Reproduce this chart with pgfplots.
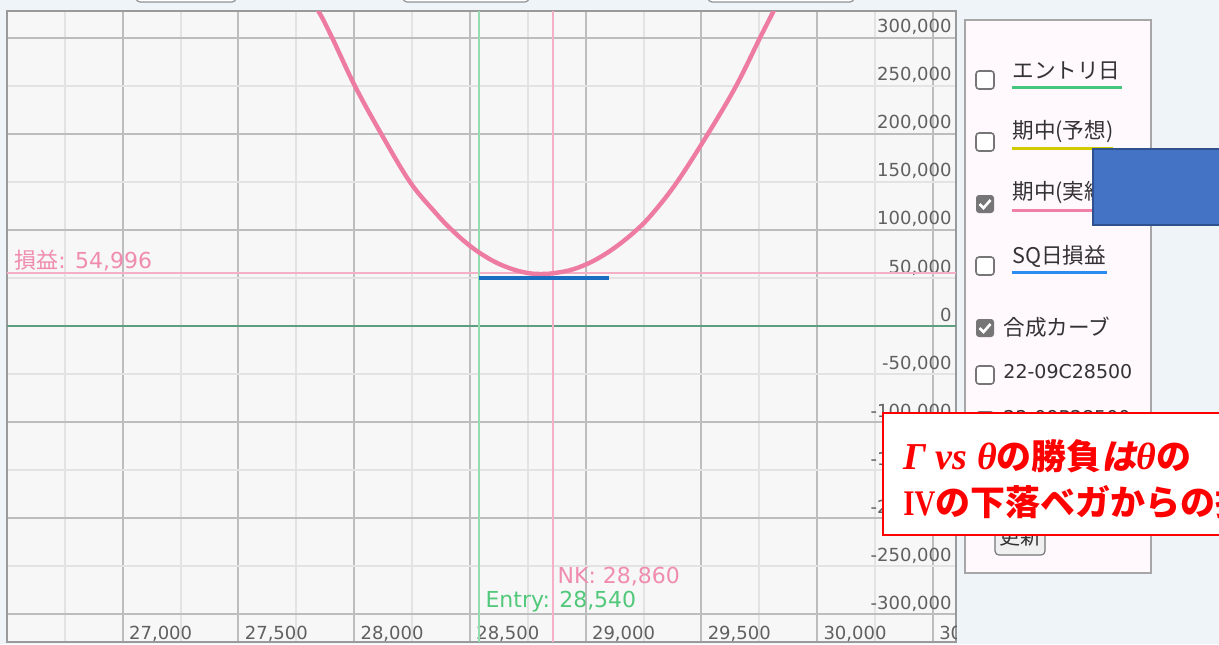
\documentclass[border=0pt]{standalone}
\usepackage{fontspec}
\setmainfont{DejaVu Sans}
\newfontfamily\jp{Noto Sans CJK JP}
\newfontfamily\jpsl{Noto Sans CJK JP}[BoldFeatures={FakeSlant=0.2}]
\newfontfamily\serifj{Liberation Serif}
\newfontfamily\serifn{Liberation Serif}[BoldFeatures={FakeStretch=0.8}]
\usepackage{pgfplots}
\pgfplotsset{compat=1.18}
\definecolor{pagebg}{HTML}{EFF4F9}
\definecolor{plotbg}{HTML}{F7F7F7}
\definecolor{majgrid}{HTML}{BDBDBD}
\definecolor{mingrid}{HTML}{E3E3E3}
\definecolor{axisgray}{HTML}{9A9A9A}
\definecolor{tickgray}{HTML}{606060}
\definecolor{curvepink}{HTML}{EE7BA2}
\definecolor{pinkline}{HTML}{F5B0C7}
\definecolor{pinktext}{HTML}{F08CAF}
\definecolor{entrygreen}{HTML}{95DDB0}
\definecolor{greentext}{HTML}{52C87A}
\definecolor{zerogreen}{HTML}{5E9F7F}
\definecolor{sqblue}{HTML}{1A6EC2}
\definecolor{panelbg}{HTML}{FFF8FD}
\definecolor{panelborder}{HTML}{A6A6A6}
\definecolor{boxgray}{HTML}{767676}
\definecolor{legtext}{HTML}{333333}
\definecolor{ulgreen}{HTML}{44C67C}
\definecolor{ulyellow}{HTML}{D2CA00}
\definecolor{ulpink}{HTML}{F07FA5}
\definecolor{ulblue}{HTML}{2A8CF0}
\definecolor{shapeblue}{HTML}{4472C4}
\definecolor{shapeedge}{HTML}{2F528F}

\begin{document}
\begin{tikzpicture}
\path[use as bounding box] (0,0) rectangle (609.5pt,-322pt);
\clip (0,0) rectangle (609.5pt,-322pt);
\fill[pagebg] (0,0) rectangle (609.5pt,-322pt);

% partial buttons above the chart
\begin{scope}[x=0.5pt,y=-0.5pt]
\foreach \a/\b in {136/236, 403/529, 708/854}
  \draw[draw=boxgray!80, fill=white, rounded corners=2pt, line width=0.6pt] (\a,-20) rectangle (\b,2);
\end{scope}

\begin{axis}[
    at={(3.5pt,-5.5pt)}, anchor=north west,
    width=474.5pt, height=315.5pt, scale only axis,
    xmin=26500, xmax=30600, ymin=-329000, ymax=328000,
    axis background/.style={fill=plotbg},
    axis line style={draw=axisgray, line width=1pt},
    xtick={27000,27500,...,30500},
    xticklabels={{27,000},{27,500},{28,000},{28,500},{29,000},{29,500},{30,000},{30,500}},
    minor xtick={26750,27250,...,30250},
    ytick={-300000,-200000,...,300000},
    yticklabels={{-300,000},{-200,000},{-100,000},{0},{100,000},{200,000},{300,000}},
    minor ytick={-250000,-150000,...,250000},
    extra y ticks={-250000,-150000,-50000,50000,150000,250000},
    extra y tick labels={{-250,000},{-150,000},{-50,000},{50,000},{150,000},{250,000}},
    extra y tick style={grid=none},
    grid=both,
    major grid style={draw=majgrid, line width=1pt},
    minor grid style={draw=mingrid, line width=1pt},
    major tick length=0pt, minor tick length=0pt,
    yticklabel pos=right,
    scaled ticks=false,
    tick label style={font=\fontsize{9}{10}\selectfont, text=tickgray, inner sep=0pt},
    x tick label style={anchor=base west, xshift=3pt, yshift=1.5pt},
    y tick label style={anchor=base east, xshift=-2pt, yshift=2.5pt},
    no markers,
]
\addplot[draw=pinkline, line width=1pt] coordinates {(26500,54996) (30600,54996)};
\addplot[draw=zerogreen, line width=1.4pt] coordinates {(26500,0) (30600,0)};
\addplot[draw=entrygreen, line width=1pt] coordinates {(28540,-329000) (28540,328000)};
\addplot[draw=pinkline, line width=1pt] coordinates {(28860,-329000) (28860,328000)};
\addplot[draw=curvepink, line width=2.2pt, smooth, tension=0.6] coordinates {
    (27790,345000) (27845,328000) (27905,300000) (28003,250000) (28117,200000)
    (28241,150000) (28351,118000) (28422,100000) (28508,82000) (28598,68000)
    (28680,59500) (28750,55200) (28805,54200) (28860,54996) (28945,59000)
    (29035,68000) (29128,82000) (29220,100000) (29292,118000) (29395,150000)
    (29528,200000) (29650,250000) (29753,300000) (29812,328000) (29848,345000)
};
\addplot[draw=sqblue, line width=1.7pt] coordinates {(28540,50000) (29100,50000)};

\node[anchor=base west, inner sep=0pt, text=pinktext, font=\fontsize{11}{12}\selectfont,
      xshift=3.5pt, yshift=2.5pt] at (axis cs:26500,54996) {{\jp 損益}: 54,996};
\node[anchor=base west, inner sep=0pt, text=pinktext, font=\fontsize{11}{12}\selectfont,
      xshift=2pt] at (axis cs:28860,-267600) {NK: 28,860};
\node[anchor=base west, inner sep=0pt, text=greentext, font=\fontsize{11}{12}\selectfont,
      xshift=3pt] at (axis cs:28540,-292600) {Entry: 28,540};
\end{axis}

\begin{scope}[x=0.5pt,y=-0.5pt]
% hide the clipped tick label beyond the plot
\fill[pagebg] (957,575) rectangle (1219,644);

% side panel
\draw[draw=panelborder, line width=1.3pt, fill=panelbg] (965,20) rectangle (1151,573);
\foreach \c in {80,142,266,375,421}
  \draw[draw=boxgray, fill=white, rounded corners=1.5pt, line width=0.8pt] (976,\c-9) rectangle (994,\c+9);
\foreach \c in {204,328} {
  \fill[boxgray, rounded corners=1.5pt] (976,\c-9) rectangle (994,\c+9);
  \draw[white, line width=1.3pt] (979.5,\c) -- (983.5,\c+4) -- (990.5,\c-4);
}
\begin{scope}[every node/.style={anchor=west, inner sep=0pt, text=legtext, font=\fontsize{10.8}{12}\selectfont\jp}]
\node at (1012,71) {エントリ日};
\node at (1012,132) {期中(予想)};
\node at (1012,193) {期中(実績)};
\node at (1012,256) {SQ日損益};
\node at (1003,327) {合成カーブ};
\node[font=\fontsize{9.5}{11}\selectfont] at (1003,372) {22-09C28500};
\node[font=\fontsize{9.5}{11}\selectfont] at (1003,418) {22-09P28500};
\end{scope}
\draw[ulgreen, line width=1.5pt] (1012,87) -- (1122,87);
\draw[ulyellow, line width=1.5pt] (1012,148) -- (1113,148);
\draw[ulpink, line width=1.5pt] (1012,210) -- (1120,210);
\draw[ulblue, line width=1.5pt] (1012,272) -- (1107,272);
\draw[draw=boxgray, fill=black!6, rounded corners=2pt, line width=0.6pt] (995,527) rectangle (1045,555);
\node[inner sep=0pt, text=legtext, font=\fontsize{10.5}{12}\selectfont\jp] at (1020,537) {更新};

% blue shape
\draw[draw=shapeedge, line width=1pt, fill=shapeblue] (1093,149) rectangle (1240,225);

% red callout
\draw[draw=red, line width=1pt, fill=white] (883,413) rectangle (1240,535);
\node[anchor=base west, inner sep=0pt, text=red] at (903,469)
  {{\fontsize{19}{22}\selectfont\serifj\bfseries\itshape Γ vs θ}{\fontsize{17.5}{20}\selectfont\jp\bfseries の勝負}{\fontsize{17.5}{20}\selectfont\jpsl\bfseries は}{\fontsize{19}{22}\selectfont\serifj\bfseries\itshape θ}{\fontsize{17.5}{20}\selectfont\jp\bfseries の}};
\node[anchor=base west, inner sep=0pt, text=red] at (903,515)
  {{\fontsize{18}{20}\selectfont\serifn\bfseries IV}{\fontsize{17.5}{20}\selectfont\jp\bfseries の下落ベガからの損失}};
\end{scope}
\end{tikzpicture}
\end{document}
